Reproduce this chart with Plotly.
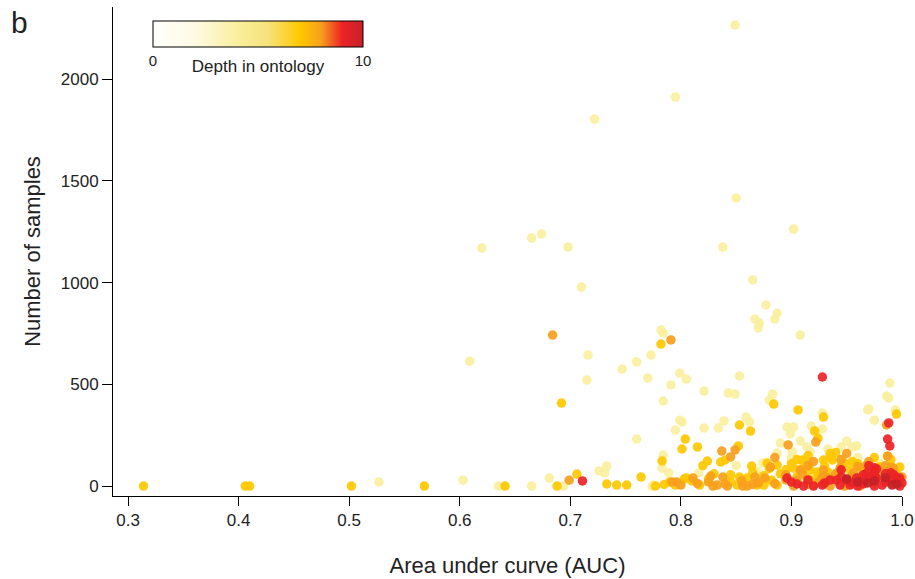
import plotly.graph_objects as go

# ---- data, grouped by depth in ontology ----
auc_d4 = [0.849, 0.795, 0.722, 0.850, 0.902, 0.620, 0.665, 0.674, 0.698, 0.838,
          0.710, 0.865, 0.877, 0.867, 0.871, 0.885, 0.887, 0.870, 0.782, 0.784,
          0.908, 0.609, 0.716, 0.715, 0.747, 0.760, 0.770, 0.773, 0.791, 0.799,
          0.805, 0.784, 0.821, 0.843, 0.849, 0.853, 0.883, 0.880, 0.989, 0.986,
          0.988, 0.994, 0.969, 0.975, 0.799, 0.801, 0.795, 0.821, 0.834, 0.839,
          0.859, 0.862, 0.760, 0.784, 0.783, 0.789, 0.816, 0.733, 0.731, 0.775,
          0.527, 0.603, 0.635, 0.665, 0.681, 0.694, 0.726, 0.774, 0.896, 0.902,
          0.899, 0.918, 0.928, 0.928, 0.970, 0.890, 0.908, 0.914, 0.933, 0.945,
          0.950, 0.955, 0.959, 0.887, 0.901, 0.917, 0.874, 0.944, 0.956, 0.974,
          0.860, 0.880, 0.920, 0.950, 0.970, 0.990, 0.840, 0.830, 0.800, 0.870,
          0.910, 0.930, 0.960, 0.980, 0.900, 0.850]
n_d4 = [2266, 1912, 1804, 1416, 1263, 1170, 1219, 1239, 1175, 1175,
        978, 1013, 890, 821, 801, 821, 850, 777, 767, 752,
        742, 614, 644, 521, 575, 610, 531, 644, 497, 555,
        526, 418, 467, 457, 452, 541, 452, 423, 506, 442,
        433, 374, 374, 324, 324, 315, 275, 285, 285, 320,
        339, 315, 231, 152, 88, 64, 64, 98, 64, 5,
        20, 29, 0, 0, 39, 0, 74, 0, 290, 290,
        256, 295, 280, 359, 379, 211, 221, 192, 182, 192,
        221, 192, 197, 162, 167, 167, 113, 128, 118, 93,
        10, 20, 40, 60, 30, 50, 30, 5, 15, 70,
        100, 120, 140, 110, 140, 100]

auc_d7 = [0.314, 0.406, 0.410, 0.502, 0.568, 0.641, 0.688, 0.706, 0.692, 0.782,
          0.783, 0.733, 0.742, 0.751, 0.777, 0.764, 0.804, 0.801, 0.815, 0.852,
          0.853, 0.863, 0.840, 0.836, 0.824, 0.864, 0.853, 0.803, 0.817, 0.851,
          0.869, 0.884, 0.906, 0.929, 0.995, 0.921, 0.924, 0.987, 0.910, 0.915,
          0.878, 0.887, 0.935, 0.937, 0.929, 0.948, 0.962, 0.978, 0.998, 0.902,
          0.917, 0.923, 0.933, 0.953, 0.941, 0.986, 0.882, 0.871, 0.914, 0.919,
          0.986, 0.875, 0.887, 0.960, 0.940, 0.970, 0.990, 0.890, 0.905, 0.930,
          0.955, 0.975, 0.985, 0.920, 0.880, 0.860, 0.845, 0.830, 0.810, 0.795,
          0.785, 0.820, 0.900, 0.950, 0.965, 0.990, 0.940, 0.915,
          0.790, 0.805, 0.825, 0.845, 0.865, 0.875, 0.895, 0.910, 0.925, 0.945,
          0.960, 0.980, 0.995, 0.935, 0.905]
n_d7 = [0, 0, 0, 0, 0, 0, 0, 59, 408, 698,
        123, 10, 5, 5, 0, 44, 231, 182, 192, 197,
        300, 270, 128, 118, 123, 98, 44, 34, 5, 5,
        5, 403, 374, 339, 354, 270, 236, 147, 128, 113,
        113, 103, 143, 128, 128, 113, 93, 88, 93, 88,
        79, 69, 69, 79, 64, 64, 29, 20, 39, 29,
        20, 5, 5, 15, 40, 50, 100, 60, 45, 95,
        120, 140, 30, 10, 85, 40, 20, 60, 25, 5,
        8, 100, 110, 25, 75, 130, 165, 150,
        20, 40, 35, 55, 65, 50, 80, 85, 55, 100,
        110, 95, 60, 160, 130]

auc_d8 = [0.684, 0.791, 0.699, 0.837, 0.849, 0.845, 0.792, 0.796, 0.811, 0.827,
          0.838, 0.867, 0.829, 0.833, 0.842, 0.856, 0.860, 0.986, 0.897, 0.922,
          0.881, 0.968, 0.992, 0.908, 0.929, 0.944, 0.956, 1.000, 0.876, 0.905,
          0.928, 0.933, 0.955, 0.977, 0.902, 0.919, 0.935, 0.948, 0.962, 0.870,
          0.895, 0.915, 0.945, 0.970, 0.980, 0.990, 0.960, 0.925, 0.885, 0.950,
          0.990, 0.910, 0.987,
          0.800, 0.815, 0.825, 0.840, 0.855, 0.865, 0.885, 0.895, 0.905, 0.915,
          0.930, 0.940, 0.955, 0.965, 0.975, 0.985, 0.995, 0.960, 0.920]
n_d8 = [742, 718, 29, 172, 177, 143, 20, 20, 39, 49,
        44, 44, 0, 5, 0, 0, 0, 300, 202, 216,
        93, 103, 88, 79, 79, 88, 64, 44, 39, 29,
        44, 39, 20, 44, 0, 5, 0, 0, 0, 15,
        55, 100, 130, 120, 70, 15, 45, 20, 140, 160,
        90, 60, 147,
        5, 12, 20, 10, 25, 8, 12, 30, 18, 8,
        45, 60, 50, 30, 15, 100, 20, 95, 120]

auc_d9 = [0.711, 0.928, 0.988, 0.987, 0.989, 0.977, 0.968, 0.975, 0.993, 0.896,
          0.900, 0.941, 0.950, 0.959, 0.966, 0.971, 0.977, 0.991, 0.998, 1.000,
          0.911, 0.928, 0.944, 0.953, 0.975, 0.982, 0.998, 0.975, 0.985, 0.965,
          0.930, 0.915,
          0.905, 0.935, 0.945, 0.955, 0.965, 0.975, 0.985, 0.995, 0.920, 0.960,
          0.990, 0.945, 0.970]
n_d9 = [25, 536, 310, 231, 197, 84, 64, 54, 54, 39,
        20, 29, 29, 39, 29, 44, 39, 29, 39, 15,
        0, 5, 5, 5, 0, 5, 0, 90, 60, 10,
        15, 30,
        10, 30, 45, 15, 55, 70, 20, 40, 0, 0,
        65, 80, 100]

auc_d10 = [0.969, 0.991, 0.985, 0.960, 0.950, 0.975, 0.995]
n_d10 = [15, 5, 40, 20, 35, 25, 10]

depth_levels = [4, 7, 8, 9, 10]

# ---- build ----
groups = [(auc_d4, n_d4), (auc_d7, n_d7), (auc_d8, n_d8), (auc_d9, n_d9), (auc_d10, n_d10)]
xs, ys, ds = [], [], []
for d, (a, n) in zip(depth_levels, groups):
    xs += a
    ys += n
    ds += [d] * len(a)

colorscale = [
    [0.0, "#FFFFFF"],
    [0.2, "#FEFAE4"],
    [0.4, "#FAEF9E"],
    [0.55, "#F6E27A"],
    [0.7, "#FFC800"],
    [0.8, "#F7A01C"],
    [0.9, "#EC2327"],
    [1.0, "#C62127"],
]

font_family = "Liberation Sans, Arial, sans-serif"

fig = go.Figure()
fig.add_trace(go.Scatter(
    x=xs, y=ys, mode="markers", cliponaxis=False,
    marker=dict(
        color=ds, cmin=0, cmax=10, colorscale=colorscale, size=9.5, opacity=0.92,
        line=dict(width=0),
        showscale=True,
        colorbar=dict(
            orientation="h", x=0.0507, xanchor="left", y=0.971, yanchor="top",
            len=0.2662, lenmode="fraction", thickness=26, thicknessmode="pixels",
            outlinecolor="black", outlinewidth=1, xpad=0, ypad=0,
            tickvals=[0, 10], ticktext=["0", "10"], ticks="",
            tickfont=dict(size=15, color="#222", family=font_family),
            title=dict(text="Depth in ontology", side="bottom",
                       font=dict(size=17, color="#222", family=font_family)),
        ),
    ),
    hoverinfo="skip", showlegend=False,
))

fig.update_layout(
    width=915, height=579,
    margin=dict(l=113, r=13, t=7, b=83, autoexpand=False),
    paper_bgcolor="white", plot_bgcolor="white",
    font=dict(family=font_family, color="#222"),
    xaxis=dict(
        range=[0.2864, 1.0], tickvals=[0.3, 0.4, 0.5, 0.6, 0.7, 0.8, 0.9, 1.0],
        ticktext=["0.3", "0.4", "0.5", "0.6", "0.7", "0.8", "0.9", "1.0"],
        ticks="outside", ticklen=9, tickcolor="black", tickwidth=1,
        showline=True, linecolor="black", linewidth=1, showgrid=False, zeroline=False,
        tickfont=dict(size=17), automargin=False,
        title=dict(text="Area under curve (AUC)", font=dict(size=22), standoff=28),
    ),
    yaxis=dict(
        range=[-49, 2355], tickvals=[0, 500, 1000, 1500, 2000],
        ticks="outside", ticklen=10, tickcolor="black", tickwidth=1,
        showline=True, linecolor="black", linewidth=1, showgrid=False, zeroline=False,
        tickfont=dict(size=17), automargin=False,
        title=dict(text="Number of samples", font=dict(size=22), standoff=14),
    ),
    annotations=[dict(text="b", x=-0.118, y=0.969, xref="paper", yref="paper",
                      xanchor="center", yanchor="middle", showarrow=False,
                      font=dict(size=30, color="#222"))],
)

fig.write_html("out.html")
